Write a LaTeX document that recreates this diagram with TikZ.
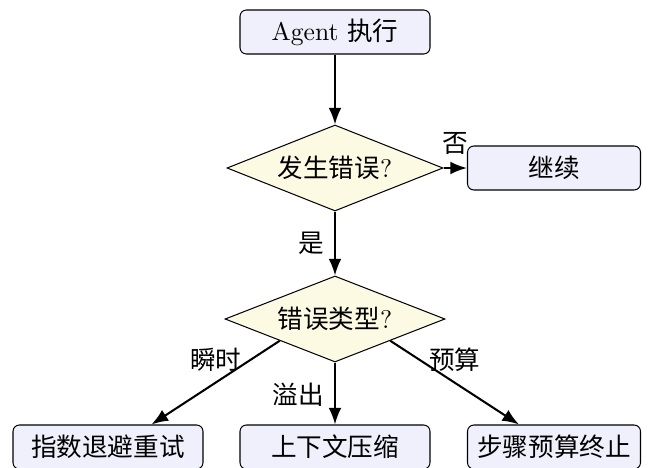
\documentclass[tikz,border=0pt]{standalone}
\usepackage{fontspec}
\newfontfamily\cjk{Noto Sans CJK SC}
\usetikzlibrary{shapes.geometric,arrows.meta,calc}
\newdimen\pxu \pxu=0.390625pt
\definecolor{boxfill}{RGB}{240,240,252}
\definecolor{dfill}{RGB}{253,250,228}
\tikzset{
  procbox/.style={draw, rounded corners=2.5pt, fill=boxfill, line width=0.4pt, inner sep=0pt, minimum height=44\pxu},
  decide/.style={draw, diamond, fill=dfill, line width=0.4pt, inner sep=0pt, aspect=2.6, minimum width=216\pxu, minimum height=86\pxu},
  flow/.style={-{Latex[length=6.5pt,width=5pt]}, line width=0.8pt},
  lbl/.style={inner sep=1pt}
}
\begin{document}
\begin{tikzpicture}[x=1\pxu,y=-1\pxu]
\useasboundingbox (0,0) rectangle (648,468);
\node[procbox, minimum width=190\pxu] (start) at (335,32) {Agent {\cjk 执行}};
\node[decide] (err) at (335,168) {{\cjk 发生错误}?};
\node[procbox, minimum width=173\pxu] (cont) at (554,168) {\cjk 继续};
\node[decide, minimum width=220\pxu] (type) at (335,319) {{\cjk 错误类型}?};
\node[procbox, minimum width=190\pxu] (retry) at (108,447) {\cjk 指数退避重试};
\node[procbox, minimum width=190\pxu] (comp) at (335,447) {\cjk 上下文压缩};
\node[procbox, minimum width=173\pxu] (stop) at (554,447) {\cjk 步骤预算终止};
\draw[flow] (start) -- (err);
\draw[flow] (err.east) -- (err.east -| cont.west) node[lbl, pos=0.5, above=4pt] {\cjk 否};
\draw[flow] (err) -- (type) node[lbl, pos=0.5, left=3pt] {\cjk 是};
\draw[flow] (type.south west) -- ($(retry.north east)+(-52,0)$) node[lbl, pos=0.5, above=3pt] {\cjk 瞬时};
\draw[flow] (type) -- (comp) node[lbl, pos=0.52, left=3pt] {\cjk 溢出};
\draw[flow] (type.south east) -- ($(stop.north west)+(52,0)$) node[lbl, pos=0.5, above=3pt] {\cjk 预算};
\end{tikzpicture}
\end{document}
